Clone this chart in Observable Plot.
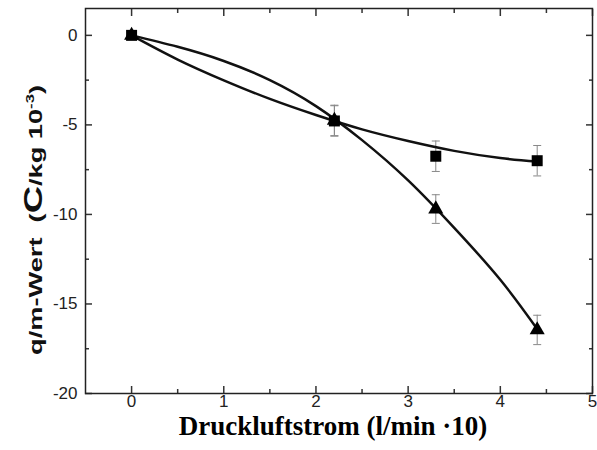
<!DOCTYPE html>
<html><head><meta charset="utf-8">
<script src="https://cdn.jsdelivr.net/npm/d3@7"></script>
<script src="https://cdn.jsdelivr.net/npm/@observablehq/plot@0.6"></script>
<style>
body{margin:0;background:#fff}
g[aria-label="x-axis tick label"] text, g[aria-label="y-axis tick label"] text { font-size: 17px; }
</style>
</head><body><div id="chart"></div>
<script>
// measured points
const flow = [0, 2.2, 3.3, 4.4];
const squareQ = [0, -4.78, -6.75, -7.0];
const triangleQ = [0, -4.75, -9.7, -16.45];
const squareErr = [0.15, 0.85, 0.85, 0.85];
const triangleErr = [0.15, 0.85, 0.8, 0.82];
// fitted curves
const fitX = [0, 0.5, 1, 1.5, 2, 2.5, 3, 3.5, 4, 4.4];
const squareFit = [0, -1.35, -2.51, -3.55, -4.45, -5.25, -5.9, -6.45, -6.85, -7.05];
const triangleFit = [0, -0.64, -1.43, -2.5, -3.95, -5.85, -8.1, -10.75, -13.65, -16.4];
// ticks
const xMajor = [0, 1, 2, 3, 4, 5];
const xMinor = [0.5, 1.5, 2.5, 3.5, 4.5];
const yMajor = [0, -5, -10, -15, -20];
const yMinor = [-2.5, -7.5, -12.5, -17.5];
const xTitle = "Druckluftstrom (l/min ·10)";

const points = [];
flow.forEach((x, i) => {
  points.push({series: "square", x, y: squareQ[i], e: squareErr[i]});
  points.push({series: "triangle", x, y: triangleQ[i], e: triangleErr[i]});
});
const sqFit = fitX.map((x, i) => ({x, y: squareFit[i]}));
const trFit = fitX.map((x, i) => ({x, y: triangleFit[i]}));
const caps = points.flatMap(d => [{x: d.x, y: d.y + d.e}, {x: d.x, y: d.y - d.e}]);
const capSymbol = {draw(ctx) { ctx.moveTo(-4, 0); ctx.lineTo(4, 0); }};

const tickStroke = "#333";
const chart = Plot.plot({
  width: 597, height: 450,
  marginLeft: 85, marginRight: 5, marginTop: 8, marginBottom: 57,
  style: {fontFamily: "Liberation Sans, Arial, sans-serif", fontSize: "17px", color: "#222", background: "#fff"},
  x: {domain: [-0.5, 5]},
  y: {domain: [-20, 1.5]},
  marks: [
    Plot.axisX(xMajor, {anchor: "bottom", tickSize: -7, fill: "none", stroke: tickStroke, strokeWidth: 1.5, label: null}),
    Plot.axisX(xMinor, {anchor: "bottom", tickSize: -4, fill: "none", stroke: tickStroke, strokeWidth: 1.5, label: null}),
    Plot.axisX(xMajor, {anchor: "top", tickSize: -7, fill: "none", stroke: tickStroke, strokeWidth: 1.5, label: null}),
    Plot.axisX(xMinor, {anchor: "top", tickSize: -4, fill: "none", stroke: tickStroke, strokeWidth: 1.5, label: null}),
    Plot.axisX(xMajor, {anchor: "bottom", tickSize: 0, tickPadding: 1, fill: "#222", label: null, tickFormat: d => String(d)}),
    Plot.axisY(yMajor, {anchor: "left", tickSize: -7, fill: "none", stroke: tickStroke, strokeWidth: 1.5, label: null}),
    Plot.axisY(yMinor, {anchor: "left", tickSize: -4, fill: "none", stroke: tickStroke, strokeWidth: 1.5, label: null}),
    Plot.axisY(yMajor, {anchor: "right", tickSize: -7, fill: "none", stroke: tickStroke, strokeWidth: 1.5, label: null}),
    Plot.axisY(yMinor, {anchor: "right", tickSize: -4, fill: "none", stroke: tickStroke, strokeWidth: 1.5, label: null}),
    Plot.axisY(yMajor, {anchor: "left", tickSize: 0, tickPadding: 8, fill: "#222", label: null, tickFormat: d => String(d)}),
    Plot.frame({stroke: "#222", strokeWidth: 1.5}),
    Plot.ruleX(points, {x: "x", y1: d => d.y - d.e, y2: d => d.y + d.e, stroke: "#888", strokeWidth: 1}),
    Plot.dot(caps, {x: "x", y: "y", symbol: capSymbol, stroke: "#888", fill: "none", strokeWidth: 1}),
    Plot.line(sqFit, {x: "x", y: "y", curve: "natural", stroke: "#111", strokeWidth: 2.5}),
    Plot.line(trFit, {x: "x", y: "y", curve: "natural", stroke: "#111", strokeWidth: 2.5}),
    Plot.dot(points.filter(d => d.series === "square"), {x: "x", y: "y", symbol: "square", r: 6.2, fill: "#000", stroke: "none"}),
    Plot.dot(points.filter(d => d.series === "triangle"), {x: "x", y: "y", symbol: "triangle", r: 5.6, fill: "#000", stroke: "none"}),
    Plot.text([xTitle], {frameAnchor: "bottom", dx: -6, dy: 41, fontSize: 27, fontWeight: "bold", fontFamily: "Liberation Serif, Times New Roman, serif", fill: "#000"})
  ]
});
document.getElementById("chart").appendChild(chart);

// y axis title with mixed sizes
const svg = d3.select(chart);
const t = svg.append("text")
  .attr("transform", "translate(42,355) rotate(-90)")
  .attr("text-anchor", "start")
  .attr("textLength", 270)
  .attr("lengthAdjust", "spacingAndGlyphs")
  .attr("font-family", "Liberation Sans, Arial, sans-serif")
  .attr("font-weight", "bold")
  .attr("font-size", 18)
  .attr("fill", "#111");
t.append("tspan").text("q/m-Wert  (");
t.append("tspan").attr("font-size", 25).attr("font-weight", 900).text("C");
t.append("tspan").text("/kg 10");
t.append("tspan").attr("font-size", 11).attr("dy", -8).text("-3");
t.append("tspan").attr("dy", 8).text(")");
</script>
</body></html>
